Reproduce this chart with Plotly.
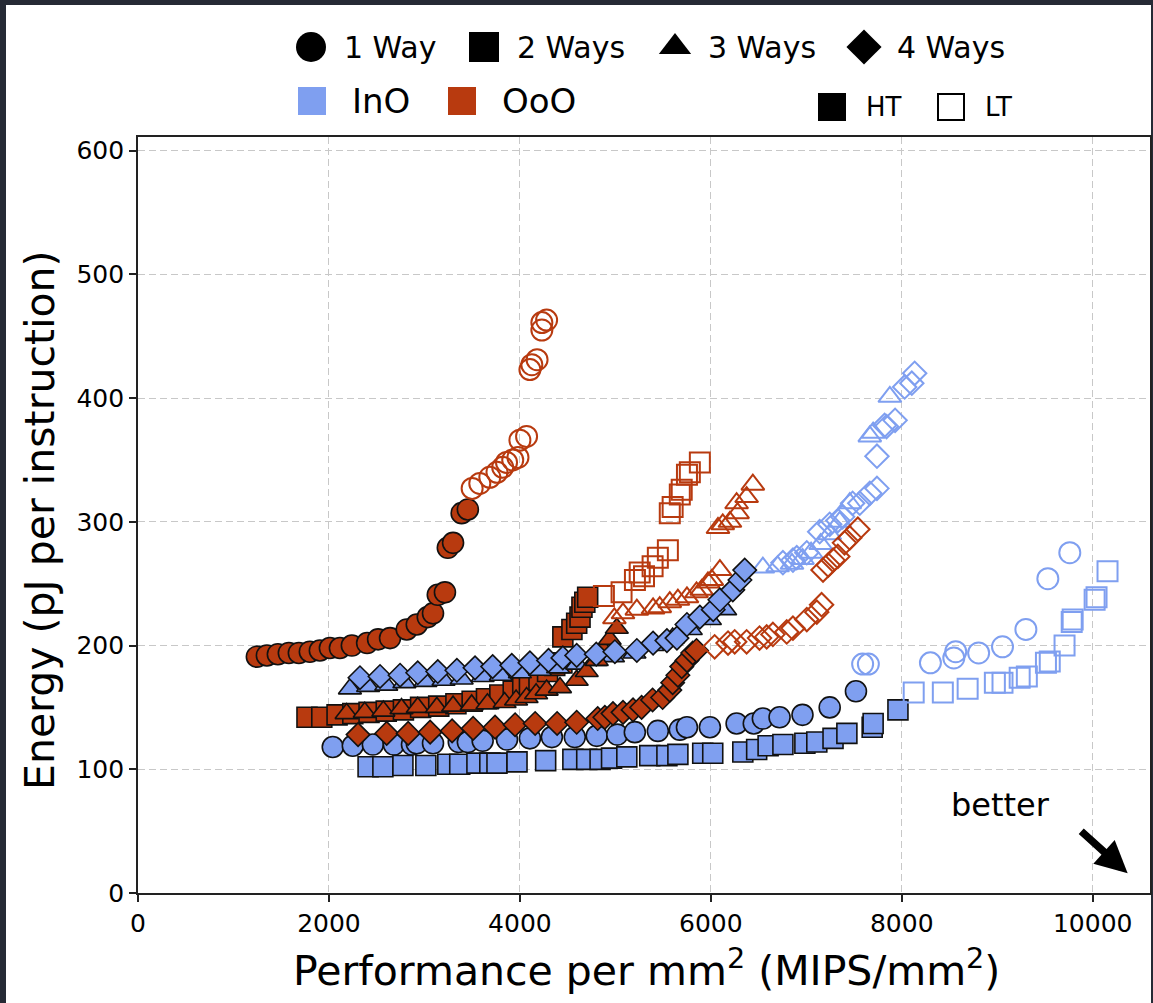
import plotly.graph_objects as go

# ---------------- data: area efficiency vs. energy per instruction ----------------
# InO = in-order cores, OoO = out-of-order cores; HT / LT = two design points.

ino_1w_ht_x = [2040, 2250, 2460, 2680, 2870, 2920, 3090, 3360, 3455, 3610, 3865, 4105, 4335,
               4575, 4805, 5020, 5204, 5445, 5675, 5750, 5990, 6270, 6450, 6545, 6720, 6960,
               7245, 7520]
ino_1w_ht_y = [118, 119, 120, 120, 120, 121, 121, 122, 122, 123, 124, 125, 126,
               126, 127, 128, 130, 131, 132, 134, 134, 137, 137, 141, 142, 144,
               150, 163]
ino_1w_lt_x = [7590, 7650, 8300, 8545, 8565, 8805, 9055, 9300, 9530, 9760]
ino_1w_lt_y = [185, 185, 186, 190, 195, 194, 199, 213, 254, 275]

ino_2w_ht_x = [2410, 2565, 2775, 3015, 3245, 3370, 3550, 3685, 3760, 3970, 4270, 4555, 4700,
               4840, 4960, 5120, 5360, 5540, 5655, 5915, 6020, 6335, 6480, 6600, 6755, 6985,
               7110, 7280, 7425, 7690, 7700, 7960]
ino_2w_ht_y = [102, 102, 103, 103, 104, 104, 105, 105, 105, 106, 107, 108, 108,
               108, 109, 110, 111, 111, 112, 113, 113, 114, 116, 119, 120, 121,
               122, 125, 129, 134, 137, 148]
ino_2w_lt_x = [8125, 8430, 8690, 8975, 9055, 9235, 9310, 9510, 9550, 9705, 9780, 9790,
               10020, 10040, 10155]
ino_2w_lt_y = [162, 162, 165, 170, 170, 174, 175, 186, 187, 200, 219, 221, 237, 239, 260]

ino_3w_ht_x = [2220, 2410, 2600, 2790, 3010, 3200, 3390, 3610, 3800, 4000, 4210, 4400, 4600,
               4790, 4975, 5200, 5390, 5600, 5790, 5990, 6150]
ino_3w_ht_y = [165, 167, 168, 170, 171, 172, 173, 175, 176, 178, 180, 182, 185,
               188, 191, 194, 200, 206, 213, 221, 229]
ino_3w_lt_x = [6545, 6700, 6850, 6960, 7050, 7150, 7245, 7350, 7455, 7665, 7700, 7875]
ino_3w_lt_y = [263, 264, 266, 270, 275, 282, 290, 300, 315, 369, 372, 401]

ino_4w_ht_x = [2325, 2535, 2745, 2930, 3140, 3340, 3530, 3715, 3915, 4105, 4300, 4450, 4595,
               4800, 4995, 5225, 5395, 5540, 5645, 5750, 5885, 6025, 6095, 6230, 6305, 6355]
ino_4w_ht_y = [174, 175, 176, 178, 179, 180, 182, 183, 184, 186, 188, 190, 192,
               193, 195, 196, 202, 204, 206, 217, 223, 229, 237, 245, 253, 261]
ino_4w_lt_x = [6755, 6860, 6900, 7005, 7140, 7245, 7330, 7380, 7485, 7560, 7665, 7740, 7740,
               7820, 7840, 7930, 8030, 8105, 8135]
ino_4w_lt_y = [267, 269, 271, 275, 292, 298, 301, 304, 315, 315, 323, 327, 353,
               378, 377, 382, 409, 412, 420]

ooo_1w_ht_x = [1245, 1350, 1465, 1580, 1685, 1800, 1905, 2010, 2115, 2240, 2400, 2515, 2640,
               2815, 2920, 3035, 3090, 3140, 3215, 3245, 3300, 3390, 3455]
ooo_1w_ht_y = [191, 192, 193, 194, 194, 195, 196, 198, 198, 200, 202, 205, 206,
               213, 217, 223, 226, 241, 243, 279, 283, 307, 310]
ooo_1w_lt_x = [3500, 3580, 3685, 3760, 3820, 3860, 3925, 3980, 4000, 4070, 4105, 4125, 4180,
               4230, 4230, 4280]
ooo_1w_lt_y = [327, 331, 336, 340, 344, 348, 350, 352, 366, 369, 423, 427, 431,
               455, 461, 463]

ooo_2w_ht_x = [1770, 1925, 2085, 2250, 2420, 2600, 2780, 2960, 3150, 3330, 3500, 3650, 3790,
               3930, 4030, 4100, 4200, 4290, 4365, 4440, 4450, 4545, 4595, 4630, 4650, 4680,
               4710]
ooo_2w_ht_y = [142, 142, 144, 145, 146, 147, 148, 150, 151, 153, 155, 157, 160,
               163, 166, 167, 172, 179, 184, 186, 207, 213, 218, 223, 231, 235,
               239]
ooo_2w_lt_x = [4880, 5065, 5205, 5255, 5300, 5390, 5445, 5550, 5570, 5600, 5675, 5695, 5750,
               5780, 5885]
ooo_2w_lt_y = [240, 243, 253, 259, 256, 264, 271, 277, 307, 312, 322, 326, 338, 340, 348]

ooo_3w_ht_x = [2185, 2375, 2570, 2760, 2930, 3130, 3300, 3495, 3660, 3840, 3960, 4070, 4170,
               4280, 4420, 4595, 4700, 4805, 4870, 4940, 5015]
ooo_3w_ht_y = [145, 146, 147, 149, 150, 150, 151, 152, 153, 154, 156, 158, 161,
               164, 166, 172, 179, 188, 197, 205, 214]
ooo_3w_lt_x = [4990, 5080, 5225, 5395, 5465, 5570, 5655, 5750, 5850, 5905, 5970, 6010, 6095,
               6075, 6125, 6200, 6270, 6280, 6375, 6440]
ooo_3w_lt_y = [222, 226, 229, 230, 231, 235, 237, 239, 243, 245, 251, 253, 261,
               295, 298, 300, 315, 307, 320, 330]

ooo_4w_ht_x = [2305, 2605, 2830, 3060, 3290, 3510, 3740, 3950, 4160, 4390, 4595, 4815, 4890,
               4975, 5080, 5185, 5275, 5390, 5495, 5570, 5600, 5655, 5695, 5750, 5810, 5850]
ooo_4w_ht_y = [128, 129, 129, 130, 131, 133, 134, 136, 137, 137, 138, 141, 142,
               145, 146, 148, 150, 156, 158, 164, 170, 176, 183, 188, 194, 196]
ooo_4w_lt_x = [6040, 6180, 6250, 6375, 6510, 6585, 6650, 6795, 6860, 7005, 7110, 7160, 7175,
               7230, 7280, 7330, 7400, 7455, 7540]
ooo_4w_lt_y = [199, 202, 203, 203, 206, 207, 209, 211, 214, 221, 227, 233, 261,
               265, 269, 272, 283, 287, 294]

x_ticks = [0, 2000, 4000, 6000, 8000, 10000]
x_tick_text = ["0", "2000", "4000", "6000", "8000", "10000"]
y_ticks = [0, 100, 200, 300, 400, 500, 600]

way_labels = ["1 Way", "2 Ways", "3 Ways", "4 Ways"]
core_labels = ["InO", "OoO"]
mode_labels = ["HT", "LT"]

# ---------------- styling ----------------
W, H = 1153, 1003
FONT = "DejaVu Sans"
INO_C = "#7f9ff0"
OOO_C = "#b83a0f"
BORDER = "#262a35"

symbols = {1: "circle", 2: "square", 3: "triangle-up", 4: "diamond"}
sizes = {1: 21, 2: 20, 3: 20, 4: 18}

series = [
    (1, INO_C, ino_1w_ht_x, ino_1w_ht_y, ino_1w_lt_x, ino_1w_lt_y),
    (1, OOO_C, ooo_1w_ht_x, ooo_1w_ht_y, ooo_1w_lt_x, ooo_1w_lt_y),
    (2, INO_C, ino_2w_ht_x, ino_2w_ht_y, ino_2w_lt_x, ino_2w_lt_y),
    (2, OOO_C, ooo_2w_ht_x, ooo_2w_ht_y, ooo_2w_lt_x, ooo_2w_lt_y),
    (3, INO_C, ino_3w_ht_x, ino_3w_ht_y, ino_3w_lt_x, ino_3w_lt_y),
    (3, OOO_C, ooo_3w_ht_x, ooo_3w_ht_y, ooo_3w_lt_x, ooo_3w_lt_y),
    (4, INO_C, ino_4w_ht_x, ino_4w_ht_y, ino_4w_lt_x, ino_4w_lt_y),
    (4, OOO_C, ooo_4w_ht_x, ooo_4w_ht_y, ooo_4w_lt_x, ooo_4w_lt_y),
]

fig = go.Figure()

for ways, color, htx, hty, ltx, lty in series:
    sym = symbols[ways]
    fig.add_trace(go.Scatter(
        x=htx, y=hty, mode="markers", showlegend=False, hoverinfo="skip",
        marker=dict(symbol=sym, size=sizes[ways], color=color,
                    line=dict(color="#111111", width=1.6)),
    ))
    fig.add_trace(go.Scatter(
        x=ltx, y=lty, mode="markers", showlegend=False, hoverinfo="skip",
        marker=dict(symbol=sym + "-open", size=sizes[ways], color=color,
                    line=dict(color=color, width=2)),
    ))

# ---------------- custom legend on a full-figure pixel overlay ----------------
leg_x = [311, 484, 675, 864]
for i, lab in enumerate(way_labels):
    fig.add_trace(go.Scatter(
        x=[leg_x[i]], y=[47], xaxis="x2", yaxis="y2", mode="markers",
        showlegend=False, hoverinfo="skip", cliponaxis=False,
        marker=dict(symbol=symbols[i + 1], size=[30, 30, 28, 27][i], color="black",
                    line=dict(width=0)),
    ))
    fig.add_annotation(x=leg_x[i] + 31, y=47, xref="x2", yref="y2", text=lab,
                       showarrow=False, xanchor="left", yanchor="middle",
                       font=dict(family=FONT, size=30, color="black"))

for i, (lab, col) in enumerate(zip(core_labels, [INO_C, OOO_C])):
    cx = [312, 462][i]
    fig.add_trace(go.Scatter(
        x=[cx], y=[101], xaxis="x2", yaxis="y2", mode="markers",
        showlegend=False, hoverinfo="skip", cliponaxis=False,
        marker=dict(symbol="square", size=28, color=col, line=dict(width=0)),
    ))
    fig.add_annotation(x=cx + 38, y=101, xref="x2", yref="y2", text=lab,
                       showarrow=False, xanchor="left", yanchor="middle",
                       font=dict(family=FONT, size=34, color="black"))

for i, lab in enumerate(mode_labels):
    cx = [832, 951][i]
    fig.add_trace(go.Scatter(
        x=[cx], y=[107], xaxis="x2", yaxis="y2", mode="markers",
        showlegend=False, hoverinfo="skip", cliponaxis=False,
        marker=dict(symbol="square" if i == 0 else "square-open", size=26,
                    color="black", line=dict(width=2, color="black")),
    ))
    fig.add_annotation(x=cx + 32, y=107, xref="x2", yref="y2", text=lab,
                       showarrow=False, xanchor="left", yanchor="middle",
                       font=dict(family=FONT, size=26, color="black"))

# axis titles
fig.add_annotation(x=646, y=968, xref="x2", yref="y2",
                   text="Performance per mm<sup>2</sup> (MIPS/mm<sup>2</sup>)",
                   showarrow=False, xanchor="center", yanchor="middle",
                   font=dict(family=FONT, size=41, color="black"))
fig.add_annotation(x=40, y=520, xref="x2", yref="y2",
                   text="Energy (pJ per instruction)", textangle=-90,
                   showarrow=False, xanchor="center", yanchor="middle",
                   font=dict(family=FONT, size=41, color="black"))

# "better" hint with arrow towards the lower right
fig.add_annotation(x=9030, y=71, xref="x", yref="y", text="better", showarrow=False,
                   font=dict(family=FONT, size=32, color="black"))
fig.add_annotation(x=10366, y=16, ax=9864, ay=51, xref="x", yref="y", axref="x", ayref="y",
                   text="", showarrow=True, arrowhead=2, arrowsize=0.85, arrowwidth=7.5,
                   arrowcolor="black")

# page background: white sheet with a thin dark frame at the top and sides
fig.add_shape(type="rect", xref="paper", yref="paper",
              x0=6 / W, x1=1151 / W, y0=0, y1=(H - 5) / H,
              fillcolor="white", line=dict(width=0), layer="below")

axis_common = dict(
    showgrid=True, gridcolor="#c8c8c8", griddash="7px,4px", gridwidth=1.2,
    showline=True, linecolor="#222222", linewidth=1.6, mirror=True,
    ticks="outside", ticklen=7, tickwidth=1.6, tickcolor="#222222",
    tickfont=dict(family=FONT, size=25, color="black"), zeroline=False,
)

fig.update_layout(
    width=W, height=H, template="none",
    margin=dict(l=0, r=0, t=0, b=0, pad=0),
    paper_bgcolor=BORDER, plot_bgcolor="rgba(0,0,0,0)",
    font=dict(family=FONT, color="black"),
    xaxis=dict(domain=[138 / W, 1150 / W], range=[0, 10600], tickvals=x_ticks,
               ticktext=x_tick_text, anchor="y", **axis_common),
    yaxis=dict(domain=[110 / H, 866 / H], range=[0, 611], tickvals=y_ticks,
               anchor="x", **axis_common),
    xaxis2=dict(domain=[0, 1], range=[0, W], visible=False, anchor="y2", fixedrange=True),
    yaxis2=dict(domain=[0, 1], range=[H, 0], visible=False, anchor="x2", fixedrange=True),
    showlegend=False,
)

fig.write_html("out.html")
